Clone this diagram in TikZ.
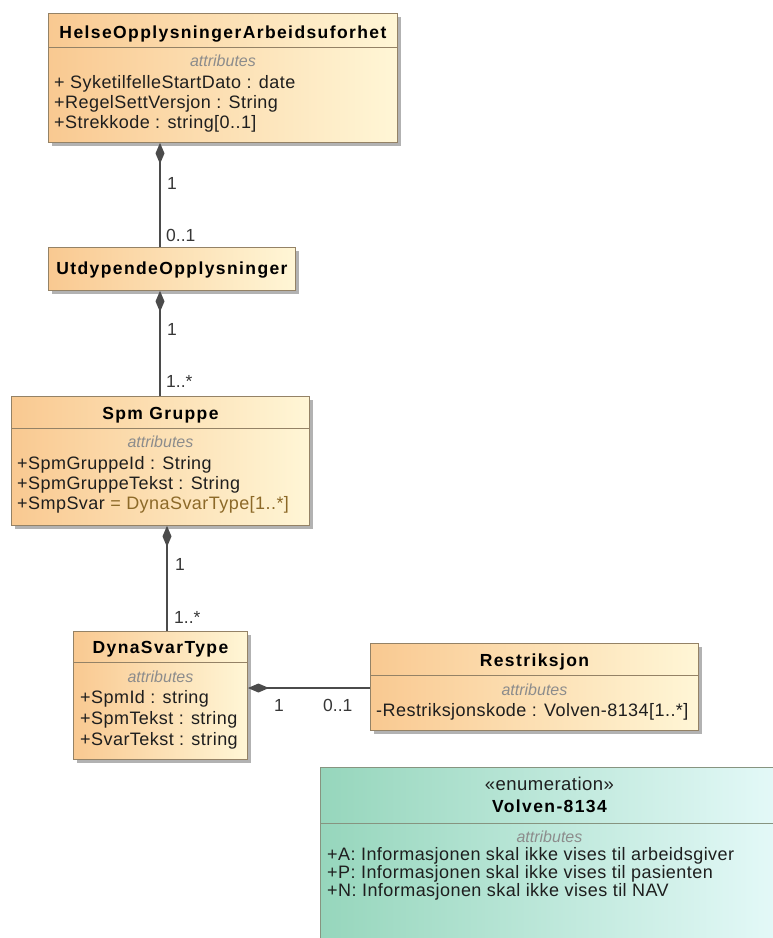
\documentclass[tikz,border=0pt]{standalone}
\usepackage{fontspec}
\setmainfont{Liberation Sans}
\newfontfamily\titlefont[LetterSpace=8]{Liberation Sans}
\newfontfamily\attrfont[LetterSpace=2.5]{Liberation Sans}
\usetikzlibrary{arrows.meta,shadows,calc}
\definecolor{orL}{RGB}{249,201,145}
\definecolor{orR}{RGB}{255,246,214}
\definecolor{grL}{RGB}{150,214,188}
\definecolor{grR}{RGB}{228,249,248}
\definecolor{bord}{RGB}{148,130,102}
\definecolor{gbord}{RGB}{135,148,128}
\definecolor{conn}{RGB}{75,75,75}
\definecolor{txt}{RGB}{30,30,30}
\definecolor{multc}{RGB}{55,55,55}
\definecolor{attrgray}{RGB}{140,140,140}
\definecolor{typebrown}{RGB}{140,105,40}
\tikzset{
  box/.style={rectangle, inner sep=0pt, anchor=north west, line width=0.9pt,
     drop shadow={shadow xshift=4pt, shadow yshift=-4pt, fill=black, opacity=0.3}},
  cls/.style={box, draw=bord, left color=orL, right color=orR},
  enm/.style={box, draw=gbord, left color=grL, right color=grR},
  sep/.style={draw=bord, line width=0.9pt},
  gsep/.style={draw=gbord, line width=0.9pt},
  ttl/.style={font=\titlefont\bfseries\fontsize{17.5}{20}\selectfont, text=black, inner sep=0pt, text height=12.5pt, text depth=0pt},
  stereo/.style={font=\attrfont\fontsize{18.5}{20}\selectfont, text=txt, inner sep=0pt, text height=13pt, text depth=0pt},
  attrlbl/.style={font=\itshape\fontsize{16}{19}\selectfont, text=attrgray, inner sep=0pt, text height=11.5pt, text depth=0pt},
  attr/.style={font=\attrfont\fontsize{18}{20}\selectfont, text=txt, inner sep=0pt, anchor=west, text height=12.9pt, text depth=0pt},
  mult/.style={font=\fontsize{17.5}{20}\selectfont, text=multc, inner sep=0pt, anchor=west, text height=12.5pt, text depth=0pt},
  comp/.style={draw=conn, line width=1.4pt, {Diamond[length=21pt,width=9pt]}-},
}
\begin{document}
\begin{tikzpicture}[x=1pt,y=-1pt]
\useasboundingbox (0,0) rectangle (773,938);
\fill[white] (0,0) rectangle (773,938);

% HelseOpplysningerArbeidsuforhet
\node[cls, minimum width=349pt, minimum height=129pt] (b1) at (48,13) {};
\draw[sep] ($(b1.north west)+(0,34)$) -- ($(b1.north east)+(0,34)$);
\node[ttl] (b1t) at ($(b1.north)+(0,19)$) {HelseOpplysningerArbeidsuforhet};
\node[attrlbl] (b1a) at ($(b1.north)+(0,48)$) {attributes};
\node[attr] (b1l1) at ($(b1.north west)+(6,69)$) {+ SyketilfelleStartDato : date};
\node[attr] (b1l2) at ($(b1.north west)+(6,89)$) {+RegelSettVersjon : String};
\node[attr] (b1l3) at ($(b1.north west)+(6,109)$) {+Strekkode : string[0..1]};

% UtdypendeOpplysninger
\node[cls, minimum width=247pt, minimum height=43pt] (b2) at (48,247) {};
\node[ttl] (b2t) at ($(b2.north)+(0,21)$) {UtdypendeOpplysninger};

% SpmGruppe
\node[cls, minimum width=298pt, minimum height=129pt] (b3) at (11,396) {};
\draw[sep] ($(b3.north west)+(0,32)$) -- ($(b3.north east)+(0,32)$);
\node[ttl] (b3t) at ($(b3.north)+(0,17)$) {Spm Gruppe};
\node[attrlbl] (b3a) at ($(b3.north)+(0,46)$) {attributes};
\node[attr] (b3l1) at ($(b3.north west)+(6,67)$) {+SpmGruppeId : String};
\node[attr] (b3l2) at ($(b3.north west)+(6,87)$) {+SpmGruppeTekst : String};
\node[attr] (b3l3) at ($(b3.north west)+(6,107)$) {+SmpSvar \textcolor{typebrown}{= DynaSvarType[1..*]}};

% DynaSvarType
\node[cls, minimum width=174pt, minimum height=128pt] (b4) at (73,631) {};
\draw[sep] ($(b4.north west)+(0,31)$) -- ($(b4.north east)+(0,31)$);
\node[ttl] (b4t) at ($(b4.north)+(0,16)$) {DynaSvarType};
\node[attrlbl] (b4a) at ($(b4.north)+(0,46)$) {attributes};
\node[attr] (b4l1) at ($(b4.north west)+(7,66)$) {+SpmId : string};
\node[attr] (b4l2) at ($(b4.north west)+(7,87)$) {+SpmTekst : string};
\node[attr] (b4l3) at ($(b4.north west)+(7,108)$) {+SvarTekst : string};

% Restriksjon
\node[cls, minimum width=328pt, minimum height=87pt] (b5) at (370,643) {};
\draw[sep] ($(b5.north west)+(0,32)$) -- ($(b5.north east)+(0,32)$);
\node[ttl] (b5t) at ($(b5.north)+(0,17)$) {Restriksjon};
\node[attrlbl] (b5a) at ($(b5.north)+(0,47)$) {attributes};
\node[attr] (b5l1) at ($(b5.north west)+(6,67)$) {-Restriksjonskode : Volven-8134[1..*]};

% Volven-8134 enumeration
\node[enm, minimum width=458pt, minimum height=175pt] (b6) at (320,767) {};
\draw[gsep] ($(b6.north west)+(0,56)$) -- ($(b6.north east)+(0,56)$);
\node[stereo] (b6s) at ($(b6.north)+(0,17)$) {«enumeration»};
\node[ttl] (b6t) at ($(b6.north)+(0,39)$) {Volven-8134};
\node[attrlbl] (b6a) at ($(b6.north)+(0,70)$) {attributes};
\node[attr] (b6l1) at ($(b6.north west)+(7,87)$) {+A: Informasjonen skal ikke vises til arbeidsgiver};
\node[attr] (b6l2) at ($(b6.north west)+(7,105)$) {+P: Informasjonen skal ikke vises til pasienten};
\node[attr] (b6l3) at ($(b6.north west)+(7,123)$) {+N: Informasjonen skal ikke vises til NAV};

% connectors
\coordinate (x1) at (160,0);
\coordinate (x3) at (167,0);
\coordinate (y4) at (0,688);
\draw[comp] (b1.south -| x1) -- (b2.north -| x1);
\draw[comp] (b2.south -| x1) -- (b3.north -| x1);
\draw[comp] (b3.south -| x3) -- (b4.north -| x3);
\draw[comp] (b4.east |- y4) -- (b5.west |- y4);

% multiplicities
\node[mult] (m1a) at ($(b1.south -| x1)+(7,40)$) {1};
\node[mult] (m1b) at ($(b2.north -| x1)+(6,-12)$) {0..1};
\node[mult] (m2a) at ($(b2.south -| x1)+(7,38)$) {1};
\node[mult] (m2b) at ($(b3.north -| x1)+(6,-15)$) {1..*};
\node[mult] (m3a) at ($(b3.south -| x3)+(8,38)$) {1};
\node[mult] (m3b) at ($(b4.north -| x3)+(7,-14)$) {1..*};
\node[mult] (m4a) at ($(b4.east |- y4)+(26,17)$) {1};
\node[mult] (m4b) at ($(b5.west |- y4)+(-47,17)$) {0..1};
\end{tikzpicture}
\end{document}
